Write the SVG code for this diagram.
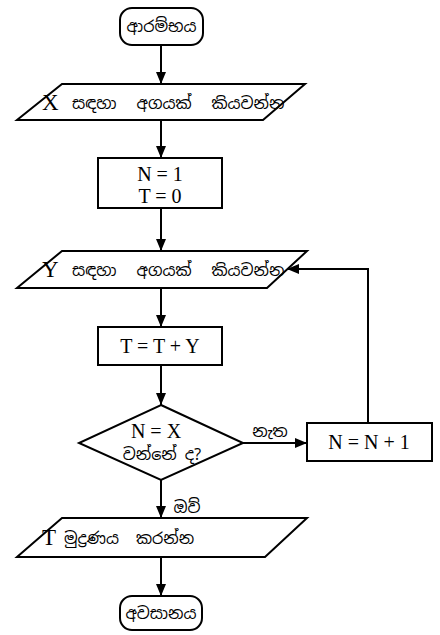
<svg xmlns="http://www.w3.org/2000/svg" width="440" height="635" viewBox="0 0 440 635">
<style>
.s{fill:#fff;stroke:#000;stroke-width:2}
.c{fill:none;stroke:#000;stroke-width:2}
.l{font-family:"Liberation Serif","Times New Roman",serif;font-size:20px;fill:#000}
.x{font-family:"Liberation Serif","Times New Roman",serif;font-size:23px;fill:#000}
.si{font-family:"Noto Sans Sinhala","Iskoola Pota","Noto Serif Sinhala","Liberation Serif",serif;font-size:16px;fill:#000}
</style>
<defs>
<marker id="a" viewBox="0 0 12 10" refX="12" refY="5" markerWidth="12" markerHeight="10" markerUnits="userSpaceOnUse" orient="auto">
<path d="M0,0 L12,5 L0,10 z" fill="#000"/>
</marker>
</defs>
<g id="connectors">
<line class="c" x1="161" y1="45" x2="161" y2="84" marker-end="url(#a)"/>
<line class="c" x1="161" y1="120" x2="161" y2="158" marker-end="url(#a)"/>
<line class="c" x1="161" y1="208" x2="161" y2="251" marker-end="url(#a)"/>
<line class="c" x1="161" y1="288" x2="161" y2="327" marker-end="url(#a)"/>
<line class="c" x1="161" y1="365" x2="161" y2="405" marker-end="url(#a)"/>
<line class="c" x1="243" y1="443" x2="307" y2="443" marker-end="url(#a)"/>
<polyline class="c" points="368,423 368,269 287,269" marker-end="url(#a)"/>
<line class="c" x1="161" y1="480" x2="161" y2="518" marker-end="url(#a)"/>
<line class="c" x1="161" y1="557" x2="161" y2="596" marker-end="url(#a)"/>
<text class="si" x="270" y="437" text-anchor="middle">නැත</text>
<text class="si" x="187" y="513" text-anchor="middle">ඔව්</text>
</g>
<g id="start">
<rect class="s" x="120" y="8" width="83" height="37" rx="12"/>
<text class="si" x="161.5" y="32" text-anchor="middle">ආරම්භය</text>
</g>
<g id="inputX">
<polygon class="s" points="62,84 305,84 263,120 17,120"/>
<text class="x" x="42" y="110">X</text>
<text class="si" x="72" y="109" word-spacing="12">සඳහා අගයක් කියවන්න</text>
</g>
<g id="init">
<rect class="s" x="98" y="158" width="124" height="50"/>
<text class="l" x="160" y="181" text-anchor="middle">N = 1</text>
<text class="l" x="160" y="203" text-anchor="middle">T = 0</text>
</g>
<g id="inputY">
<polygon class="s" points="62,251 307,251 267,288 17,288"/>
<text class="x" x="42" y="277">Y</text>
<text class="si" x="72" y="276" word-spacing="12">සඳහා අගයක් කියවන්න</text>
</g>
<g id="sum">
<rect class="s" x="98" y="327" width="124" height="38"/>
<text class="l" x="160" y="353" text-anchor="middle">T = T + Y</text>
</g>
<g id="decision">
<polygon class="s" points="161,405 243,443 161,480 79,443"/>
<text class="l" x="156" y="438" text-anchor="middle">N = X</text>
<text class="si" x="162" y="460" text-anchor="middle">වන්නේ ද?</text>
</g>
<g id="inc">
<rect class="s" x="307" y="423" width="125" height="38"/>
<text class="l" x="369" y="449" text-anchor="middle">N = N + 1</text>
</g>
<g id="output">
<polygon class="s" points="62,518 307,518 265,557 17,557"/>
<text class="x" x="42" y="545">T</text>
<text class="si" x="64" y="544" word-spacing="9">මුද්‍රණය කරන්න</text>
</g>
<g id="end">
<rect class="s" x="120" y="596" width="82" height="34" rx="12"/>
<text class="si" x="161" y="619" text-anchor="middle">අවසානය</text>
</g>
</svg>
